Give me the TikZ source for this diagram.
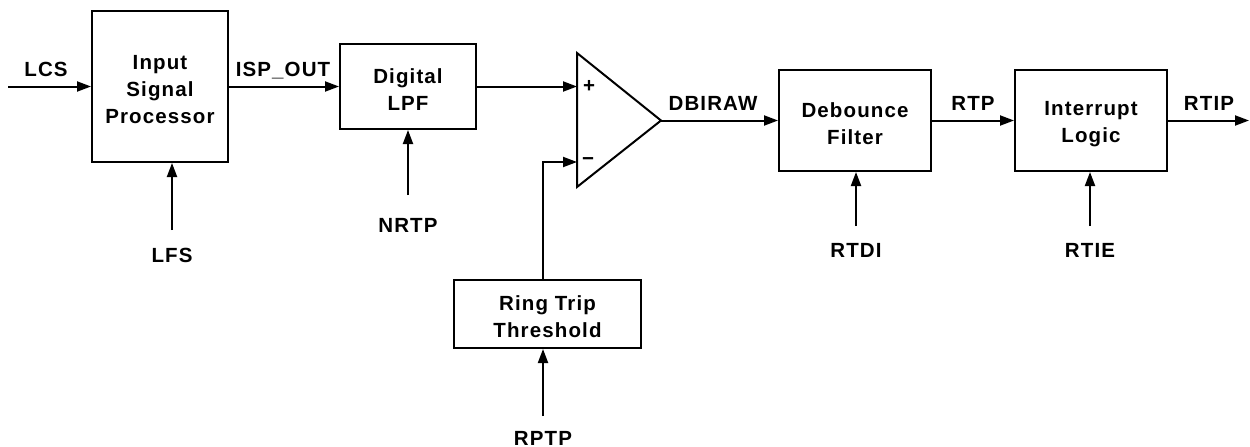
\documentclass[tikz,border=0pt]{standalone}
\usepackage{fontspec}
\setmainfont{Liberation Sans}[LetterSpace=5.5]
\usetikzlibrary{arrows.meta}
\newcommand\toplift{\rule{0pt}{21pt}}
\begin{document}
\begin{tikzpicture}[x=1pt,y=-1pt,
  blk/.style={draw, line width=2pt, align=center, inner sep=0pt,
    font=\bfseries\fontsize{20.5}{27}\selectfont},
  lab/.style={anchor=base, inner sep=0pt, font=\bfseries\fontsize{20.5}{24}\selectfont},
  sig/.style={line width=2pt, -{Triangle[length=14pt,width=10pt]}},
  wire/.style={line width=2pt, line join=miter}]
\useasboundingbox (0,0) rectangle (1250,447);
% blocks
\node[blk, minimum width=136pt, minimum height=151pt] (isp) at (160,86.5) {\toplift Input\\Signal\\Processor};
\node[blk, minimum width=136pt, minimum height=85pt] (lpf) at (408,86.5) {\toplift Digital\\LPF};
\node[blk, minimum width=187pt, minimum height=68pt] (ring) at (547.5,314) {\toplift Ring Trip\\Threshold};
\node[blk, minimum width=152pt, minimum height=101pt] (deb) at (855,120.5) {\toplift Debounce\\Filter};
\node[blk, minimum width=152pt, minimum height=101pt] (int) at (1091,120.5) {\toplift Interrupt\\Logic};
% comparator
\coordinate (ta) at (577,53);
\coordinate (tb) at (577,187);
\coordinate (out) at (661,120.5);
\coordinate (plus) at (577,87);
\coordinate (minus) at (577,162);
\draw[wire] (ta) -- (out) -- (tb) -- cycle;
\node[lab, anchor=center] (pl) at (589,86) {+};
\node[lab, anchor=center] (mi) at (588,162) {−};
% free ends
\coordinate (lcs) at (8,86.5);
\coordinate (rtip) at (1249,120.5);
\coordinate (lfs) at (172,230);
\coordinate (nrtp) at (408,195);
\coordinate (rtdi) at (856,226);
\coordinate (rtie) at (1090,226);
\coordinate (rptp) at (543,416);
% connectors
\draw[sig] (lcs) -- (lcs -| isp.west);
\draw[sig] (isp.east) -- (lpf.west);
\draw[sig] (lpf.east) -- (lpf.east -| plus);
\draw[sig] (rptp |- ring.north) |- (minus);
\draw[sig] (out) -- (out -| deb.west);
\draw[sig] (deb.east) -- (int.west);
\draw[sig] (int.east) -- (rtip);
\draw[sig] (lfs) -- (lfs |- isp.south);
\draw[sig] (nrtp) -- (lpf.south);
\draw[sig] (rtdi) -- (rtdi |- deb.south);
\draw[sig] (rtie) -- (rtie |- int.south);
\draw[sig] (rptp) -- (rptp |- ring.south);
% labels
\node[lab] (tlcs) at (46,76) {LCS};
\node[lab] (tisp) at (283,76) {ISP\_OUT};
\node[lab] (tlfs) at (172,262) {LFS};
\node[lab] (tnrtp) at (408,232) {NRTP};
\node[lab] (tdbi) at (713,110) {DBIRAW};
\node[lab] (trptp) at (543,445) {RPTP};
\node[lab] (trtp) at (973,110) {RTP};
\node[lab] (trtip) at (1209,110) {RTIP};
\node[lab] (trtdi) at (856,257) {RTDI};
\node[lab] (trtie) at (1090,257) {RTIE};
\end{tikzpicture}
\end{document}
